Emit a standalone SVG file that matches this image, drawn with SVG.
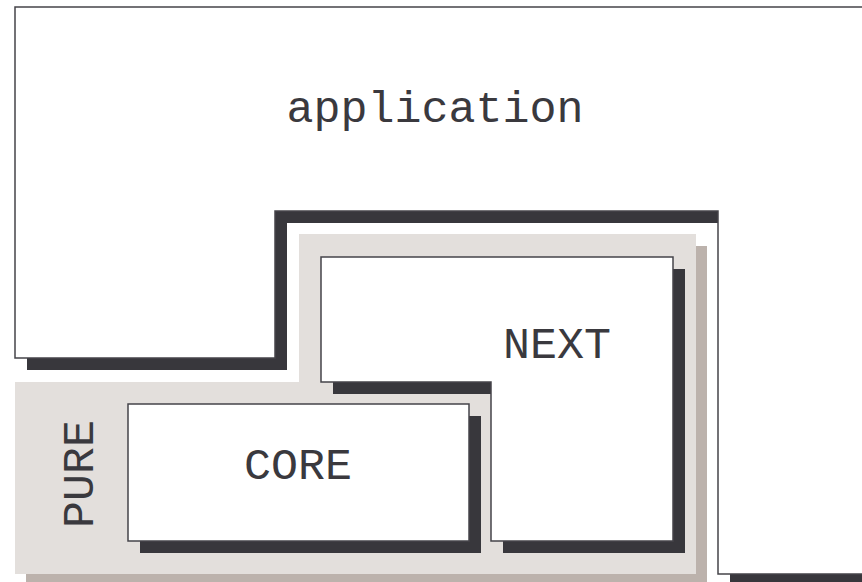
<svg xmlns="http://www.w3.org/2000/svg" width="862" height="582" viewBox="0 0 862 582">
  <style>
    .shadow { fill: #38373c; }
    .box { fill: #ffffff; stroke: #45444a; stroke-width: 1.5; }
    .zone { fill: #e3dfdc; }
    .zone-shadow { fill: #bcb2ac; }
    .label { font-family: "Liberation Mono", "Courier New", monospace; font-size: 45px; fill: #3a393e; }
  </style>
  <rect width="862" height="582" fill="#ffffff"/>

  <!-- outer application layer with notch -->
  <g id="application">
    <polygon class="shadow" transform="translate(12,12)" points="15,7 890,7 890,574 718,574 718,211 275,211 275,358 15,358"/>
    <polygon class="box" points="15,7 890,7 890,574 718,574 718,211 275,211 275,358 15,358"/>
    <text class="label" x="435" y="122" text-anchor="middle">application</text>
  </g>

  <!-- pure zone -->
  <g id="pure">
    <polygon class="zone-shadow" transform="translate(11,12)" points="299,234 696,234 696,574 15,574 15,382 299,382"/>
    <polygon class="zone" points="299,234 696,234 696,574 15,574 15,382 299,382"/>
    <text class="label" transform="translate(93,474) rotate(-90)" x="0" y="0" text-anchor="middle">PURE</text>
  </g>

  <!-- next block -->
  <g id="next">
    <polygon class="shadow" transform="translate(12,12)" points="321,257 673,257 673,541 491,541 491,382 321,382"/>
    <polygon class="box" points="321,257 673,257 673,541 491,541 491,382 321,382"/>
    <text class="label" x="557" y="358" text-anchor="middle">NEXT</text>
  </g>

  <!-- core block -->
  <g id="core">
    <rect class="shadow" x="140" y="416" width="341" height="137"/>
    <rect class="box" x="128" y="404" width="341" height="137"/>
    <text class="label" x="298" y="479" text-anchor="middle">CORE</text>
  </g>
</svg>
